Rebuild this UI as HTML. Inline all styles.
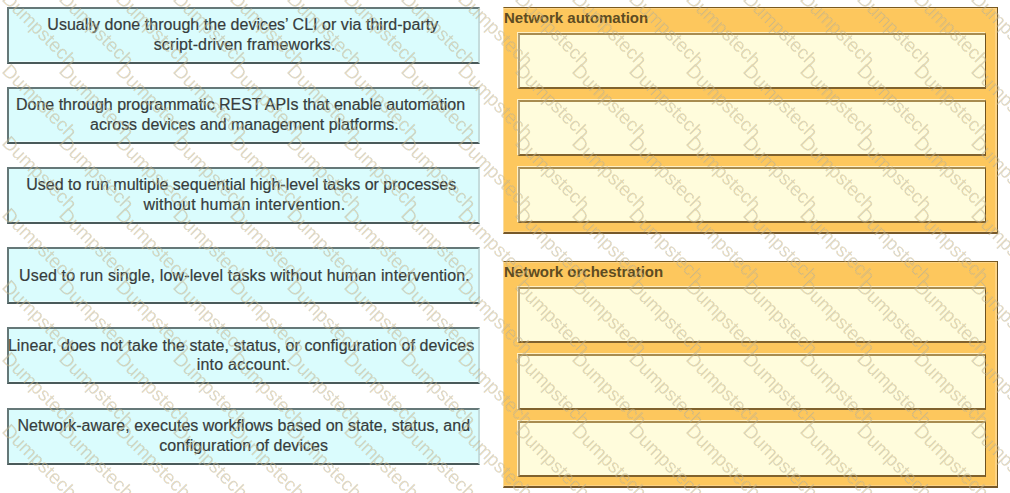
<!DOCTYPE html><html><head><meta charset="utf-8"><style>
*{margin:0;padding:0;box-sizing:border-box}
html,body{width:1010px;height:493px;overflow:hidden;background:#fff}
body{position:relative;font-family:"Liberation Sans",sans-serif;color:#363c3c}
.lb{position:absolute;left:7px;width:473px;height:57px;background:#dafcfd;
 border-top:2px solid #657878;border-left:2px solid #657878;border-bottom:2px solid #4a5a5a;border-right:2px solid #c4dcdc;
 box-shadow:inset 0 -1px 0 #ecfefe}
.t{position:absolute;white-space:nowrap;font-size:16px;line-height:16px;-webkit-text-stroke:0.2px #363c3c}
.og{position:absolute;left:503px;width:495px;background:#fdc75d;
 border-top:1px solid #7a5a20;border-right:1px solid #6a5020;border-bottom:2px solid #76582a;border-left:1px solid #f8dca0;
 box-shadow:inset 0 1px 0 #fdd486, inset -2px 0 0 #fdd486, inset 0 -1px 0 #fdd486}
.ib{position:absolute;left:14px;width:468px;background:#fffcdc;
 border-top:2px solid #a88c50;border-left:2px solid #b4a47c;border-bottom:2px solid #80622e;border-right:1px solid #6e5220;
 box-shadow:-1px -1px 0 #fff0c4}
.ttl{position:absolute;left:0px;white-space:nowrap;font-weight:bold;font-size:15px;line-height:15px;letter-spacing:0px;color:#5e4c22}
svg{position:absolute;left:0;top:0}
</style></head><body><div class="lb" style="top:7px"></div>
<div class="lb" style="top:87px"></div>
<div class="lb" style="top:167px"></div>
<div class="lb" style="top:247px"></div>
<div class="lb" style="top:327px"></div>
<div class="lb" style="top:408px"></div>
<div class="t" style="left:47.30px;top:17.3px;letter-spacing:0.038px">Usually done through the devices’ CLI or via third-party</div>
<div class="t" style="left:153.70px;top:36.7px;letter-spacing:0.125px">script-driven frameworks.</div>
<div class="t" style="left:16.10px;top:97.3px;letter-spacing:-0.028px">Done through programmatic REST APIs that enable automation</div>
<div class="t" style="left:90.10px;top:116.7px;letter-spacing:-0.023px">across devices and management platforms.</div>
<div class="t" style="left:26.30px;top:177.3px;letter-spacing:-0.010px">Used to run multiple sequential high-level tasks or processes</div>
<div class="t" style="left:143.50px;top:197.0px;letter-spacing:0.231px">without human intervention.</div>
<div class="t" style="left:19.10px;top:267.8px;letter-spacing:0.140px">Used to run single, low-level tasks without human intervention.</div>
<div class="t" style="left:7.90px;top:337.8px;letter-spacing:0.070px">Linear, does not take the state, status, or configuration of devices</div>
<div class="t" style="left:196.70px;top:357.2px;letter-spacing:0.233px">into account.</div>
<div class="t" style="left:17.50px;top:417.8px;letter-spacing:0.013px">Network-aware, executes workflows based on state, status, and</div>
<div class="t" style="left:159.30px;top:437.5px;letter-spacing:0.022px">configuration of devices</div>
<div class="og" style="top:7px;height:227px"><div class="ttl" style="top:2px">Network automation</div><div class="ib" style="top:25px;height:56px"></div><div class="ib" style="top:92px;height:56px"></div><div class="ib" style="top:159px;height:56px"></div></div>
<div class="og" style="top:261px;height:227px"><div class="ttl" style="top:2px">Network orchestration</div><div class="ib" style="top:25px;height:56px"></div><div class="ib" style="top:92px;height:56px"></div><div class="ib" style="top:159px;height:56px"></div></div>
<svg width="1010" height="493" viewBox="0 0 1010 493"><defs><pattern id="cb" width="2" height="2" patternUnits="userSpaceOnUse"><rect width="2" height="2" fill="#9aaab4"/><rect width="1" height="1" fill="#e8bc68"/><rect x="1" y="1" width="1" height="1" fill="#e8bc68"/></pattern><mask id="wmm" maskUnits="userSpaceOnUse" x="0" y="0" width="1010" height="493"><g fill="#fff" font-family="Liberation Sans" font-size="19"><text transform="translate(1.00 -144.00) rotate(45)">Dumpstech</text><text transform="translate(58.00 -144.00) rotate(45)">Dumpstech</text><text transform="translate(115.00 -144.00) rotate(45)">Dumpstech</text><text transform="translate(172.00 -144.00) rotate(45)">Dumpstech</text><text transform="translate(229.00 -144.00) rotate(45)">Dumpstech</text><text transform="translate(286.00 -144.00) rotate(45)">Dumpstech</text><text transform="translate(343.00 -144.00) rotate(45)">Dumpstech</text><text transform="translate(400.00 -144.00) rotate(45)">Dumpstech</text><text transform="translate(457.00 -144.00) rotate(45)">Dumpstech</text><text transform="translate(514.00 -144.00) rotate(45)">Dumpstech</text><text transform="translate(571.00 -144.00) rotate(45)">Dumpstech</text><text transform="translate(628.00 -144.00) rotate(45)">Dumpstech</text><text transform="translate(685.00 -144.00) rotate(45)">Dumpstech</text><text transform="translate(742.00 -144.00) rotate(45)">Dumpstech</text><text transform="translate(799.00 -144.00) rotate(45)">Dumpstech</text><text transform="translate(856.00 -144.00) rotate(45)">Dumpstech</text><text transform="translate(913.00 -144.00) rotate(45)">Dumpstech</text><text transform="translate(970.00 -144.00) rotate(45)">Dumpstech</text><text transform="translate(1027.00 -144.00) rotate(45)">Dumpstech</text><text transform="translate(1.00 -72.00) rotate(45)">Dumpstech</text><text transform="translate(58.00 -72.00) rotate(45)">Dumpstech</text><text transform="translate(115.00 -72.00) rotate(45)">Dumpstech</text><text transform="translate(172.00 -72.00) rotate(45)">Dumpstech</text><text transform="translate(229.00 -72.00) rotate(45)">Dumpstech</text><text transform="translate(286.00 -72.00) rotate(45)">Dumpstech</text><text transform="translate(343.00 -72.00) rotate(45)">Dumpstech</text><text transform="translate(400.00 -72.00) rotate(45)">Dumpstech</text><text transform="translate(457.00 -72.00) rotate(45)">Dumpstech</text><text transform="translate(514.00 -72.00) rotate(45)">Dumpstech</text><text transform="translate(571.00 -72.00) rotate(45)">Dumpstech</text><text transform="translate(628.00 -72.00) rotate(45)">Dumpstech</text><text transform="translate(685.00 -72.00) rotate(45)">Dumpstech</text><text transform="translate(742.00 -72.00) rotate(45)">Dumpstech</text><text transform="translate(799.00 -72.00) rotate(45)">Dumpstech</text><text transform="translate(856.00 -72.00) rotate(45)">Dumpstech</text><text transform="translate(913.00 -72.00) rotate(45)">Dumpstech</text><text transform="translate(970.00 -72.00) rotate(45)">Dumpstech</text><text transform="translate(1027.00 -72.00) rotate(45)">Dumpstech</text><text transform="translate(1.00 0.00) rotate(45)">Dumpstech</text><text transform="translate(58.00 0.00) rotate(45)">Dumpstech</text><text transform="translate(115.00 0.00) rotate(45)">Dumpstech</text><text transform="translate(172.00 0.00) rotate(45)">Dumpstech</text><text transform="translate(229.00 0.00) rotate(45)">Dumpstech</text><text transform="translate(286.00 0.00) rotate(45)">Dumpstech</text><text transform="translate(343.00 0.00) rotate(45)">Dumpstech</text><text transform="translate(400.00 0.00) rotate(45)">Dumpstech</text><text transform="translate(457.00 0.00) rotate(45)">Dumpstech</text><text transform="translate(514.00 0.00) rotate(45)">Dumpstech</text><text transform="translate(571.00 0.00) rotate(45)">Dumpstech</text><text transform="translate(628.00 0.00) rotate(45)">Dumpstech</text><text transform="translate(685.00 0.00) rotate(45)">Dumpstech</text><text transform="translate(742.00 0.00) rotate(45)">Dumpstech</text><text transform="translate(799.00 0.00) rotate(45)">Dumpstech</text><text transform="translate(856.00 0.00) rotate(45)">Dumpstech</text><text transform="translate(913.00 0.00) rotate(45)">Dumpstech</text><text transform="translate(970.00 0.00) rotate(45)">Dumpstech</text><text transform="translate(1027.00 0.00) rotate(45)">Dumpstech</text><text transform="translate(1.00 72.00) rotate(45)">Dumpstech</text><text transform="translate(58.00 72.00) rotate(45)">Dumpstech</text><text transform="translate(115.00 72.00) rotate(45)">Dumpstech</text><text transform="translate(172.00 72.00) rotate(45)">Dumpstech</text><text transform="translate(229.00 72.00) rotate(45)">Dumpstech</text><text transform="translate(286.00 72.00) rotate(45)">Dumpstech</text><text transform="translate(343.00 72.00) rotate(45)">Dumpstech</text><text transform="translate(400.00 72.00) rotate(45)">Dumpstech</text><text transform="translate(457.00 72.00) rotate(45)">Dumpstech</text><text transform="translate(514.00 72.00) rotate(45)">Dumpstech</text><text transform="translate(571.00 72.00) rotate(45)">Dumpstech</text><text transform="translate(628.00 72.00) rotate(45)">Dumpstech</text><text transform="translate(685.00 72.00) rotate(45)">Dumpstech</text><text transform="translate(742.00 72.00) rotate(45)">Dumpstech</text><text transform="translate(799.00 72.00) rotate(45)">Dumpstech</text><text transform="translate(856.00 72.00) rotate(45)">Dumpstech</text><text transform="translate(913.00 72.00) rotate(45)">Dumpstech</text><text transform="translate(970.00 72.00) rotate(45)">Dumpstech</text><text transform="translate(1027.00 72.00) rotate(45)">Dumpstech</text><text transform="translate(1.00 144.00) rotate(45)">Dumpstech</text><text transform="translate(58.00 144.00) rotate(45)">Dumpstech</text><text transform="translate(115.00 144.00) rotate(45)">Dumpstech</text><text transform="translate(172.00 144.00) rotate(45)">Dumpstech</text><text transform="translate(229.00 144.00) rotate(45)">Dumpstech</text><text transform="translate(286.00 144.00) rotate(45)">Dumpstech</text><text transform="translate(343.00 144.00) rotate(45)">Dumpstech</text><text transform="translate(400.00 144.00) rotate(45)">Dumpstech</text><text transform="translate(457.00 144.00) rotate(45)">Dumpstech</text><text transform="translate(514.00 144.00) rotate(45)">Dumpstech</text><text transform="translate(571.00 144.00) rotate(45)">Dumpstech</text><text transform="translate(628.00 144.00) rotate(45)">Dumpstech</text><text transform="translate(685.00 144.00) rotate(45)">Dumpstech</text><text transform="translate(742.00 144.00) rotate(45)">Dumpstech</text><text transform="translate(799.00 144.00) rotate(45)">Dumpstech</text><text transform="translate(856.00 144.00) rotate(45)">Dumpstech</text><text transform="translate(913.00 144.00) rotate(45)">Dumpstech</text><text transform="translate(970.00 144.00) rotate(45)">Dumpstech</text><text transform="translate(1027.00 144.00) rotate(45)">Dumpstech</text><text transform="translate(1.00 216.00) rotate(45)">Dumpstech</text><text transform="translate(58.00 216.00) rotate(45)">Dumpstech</text><text transform="translate(115.00 216.00) rotate(45)">Dumpstech</text><text transform="translate(172.00 216.00) rotate(45)">Dumpstech</text><text transform="translate(229.00 216.00) rotate(45)">Dumpstech</text><text transform="translate(286.00 216.00) rotate(45)">Dumpstech</text><text transform="translate(343.00 216.00) rotate(45)">Dumpstech</text><text transform="translate(400.00 216.00) rotate(45)">Dumpstech</text><text transform="translate(457.00 216.00) rotate(45)">Dumpstech</text><text transform="translate(514.00 216.00) rotate(45)">Dumpstech</text><text transform="translate(571.00 216.00) rotate(45)">Dumpstech</text><text transform="translate(628.00 216.00) rotate(45)">Dumpstech</text><text transform="translate(685.00 216.00) rotate(45)">Dumpstech</text><text transform="translate(742.00 216.00) rotate(45)">Dumpstech</text><text transform="translate(799.00 216.00) rotate(45)">Dumpstech</text><text transform="translate(856.00 216.00) rotate(45)">Dumpstech</text><text transform="translate(913.00 216.00) rotate(45)">Dumpstech</text><text transform="translate(970.00 216.00) rotate(45)">Dumpstech</text><text transform="translate(1027.00 216.00) rotate(45)">Dumpstech</text><text transform="translate(1.00 288.00) rotate(45)">Dumpstech</text><text transform="translate(58.00 288.00) rotate(45)">Dumpstech</text><text transform="translate(115.00 288.00) rotate(45)">Dumpstech</text><text transform="translate(172.00 288.00) rotate(45)">Dumpstech</text><text transform="translate(229.00 288.00) rotate(45)">Dumpstech</text><text transform="translate(286.00 288.00) rotate(45)">Dumpstech</text><text transform="translate(343.00 288.00) rotate(45)">Dumpstech</text><text transform="translate(400.00 288.00) rotate(45)">Dumpstech</text><text transform="translate(457.00 288.00) rotate(45)">Dumpstech</text><text transform="translate(514.00 288.00) rotate(45)">Dumpstech</text><text transform="translate(571.00 288.00) rotate(45)">Dumpstech</text><text transform="translate(628.00 288.00) rotate(45)">Dumpstech</text><text transform="translate(685.00 288.00) rotate(45)">Dumpstech</text><text transform="translate(742.00 288.00) rotate(45)">Dumpstech</text><text transform="translate(799.00 288.00) rotate(45)">Dumpstech</text><text transform="translate(856.00 288.00) rotate(45)">Dumpstech</text><text transform="translate(913.00 288.00) rotate(45)">Dumpstech</text><text transform="translate(970.00 288.00) rotate(45)">Dumpstech</text><text transform="translate(1027.00 288.00) rotate(45)">Dumpstech</text><text transform="translate(1.00 360.00) rotate(45)">Dumpstech</text><text transform="translate(58.00 360.00) rotate(45)">Dumpstech</text><text transform="translate(115.00 360.00) rotate(45)">Dumpstech</text><text transform="translate(172.00 360.00) rotate(45)">Dumpstech</text><text transform="translate(229.00 360.00) rotate(45)">Dumpstech</text><text transform="translate(286.00 360.00) rotate(45)">Dumpstech</text><text transform="translate(343.00 360.00) rotate(45)">Dumpstech</text><text transform="translate(400.00 360.00) rotate(45)">Dumpstech</text><text transform="translate(457.00 360.00) rotate(45)">Dumpstech</text><text transform="translate(514.00 360.00) rotate(45)">Dumpstech</text><text transform="translate(571.00 360.00) rotate(45)">Dumpstech</text><text transform="translate(628.00 360.00) rotate(45)">Dumpstech</text><text transform="translate(685.00 360.00) rotate(45)">Dumpstech</text><text transform="translate(742.00 360.00) rotate(45)">Dumpstech</text><text transform="translate(799.00 360.00) rotate(45)">Dumpstech</text><text transform="translate(856.00 360.00) rotate(45)">Dumpstech</text><text transform="translate(913.00 360.00) rotate(45)">Dumpstech</text><text transform="translate(970.00 360.00) rotate(45)">Dumpstech</text><text transform="translate(1027.00 360.00) rotate(45)">Dumpstech</text><text transform="translate(1.00 432.00) rotate(45)">Dumpstech</text><text transform="translate(58.00 432.00) rotate(45)">Dumpstech</text><text transform="translate(115.00 432.00) rotate(45)">Dumpstech</text><text transform="translate(172.00 432.00) rotate(45)">Dumpstech</text><text transform="translate(229.00 432.00) rotate(45)">Dumpstech</text><text transform="translate(286.00 432.00) rotate(45)">Dumpstech</text><text transform="translate(343.00 432.00) rotate(45)">Dumpstech</text><text transform="translate(400.00 432.00) rotate(45)">Dumpstech</text><text transform="translate(457.00 432.00) rotate(45)">Dumpstech</text><text transform="translate(514.00 432.00) rotate(45)">Dumpstech</text><text transform="translate(571.00 432.00) rotate(45)">Dumpstech</text><text transform="translate(628.00 432.00) rotate(45)">Dumpstech</text><text transform="translate(685.00 432.00) rotate(45)">Dumpstech</text><text transform="translate(742.00 432.00) rotate(45)">Dumpstech</text><text transform="translate(799.00 432.00) rotate(45)">Dumpstech</text><text transform="translate(856.00 432.00) rotate(45)">Dumpstech</text><text transform="translate(913.00 432.00) rotate(45)">Dumpstech</text><text transform="translate(970.00 432.00) rotate(45)">Dumpstech</text><text transform="translate(1027.00 432.00) rotate(45)">Dumpstech</text><text transform="translate(1.00 504.00) rotate(45)">Dumpstech</text><text transform="translate(58.00 504.00) rotate(45)">Dumpstech</text><text transform="translate(115.00 504.00) rotate(45)">Dumpstech</text><text transform="translate(172.00 504.00) rotate(45)">Dumpstech</text><text transform="translate(229.00 504.00) rotate(45)">Dumpstech</text><text transform="translate(286.00 504.00) rotate(45)">Dumpstech</text><text transform="translate(343.00 504.00) rotate(45)">Dumpstech</text><text transform="translate(400.00 504.00) rotate(45)">Dumpstech</text><text transform="translate(457.00 504.00) rotate(45)">Dumpstech</text><text transform="translate(514.00 504.00) rotate(45)">Dumpstech</text><text transform="translate(571.00 504.00) rotate(45)">Dumpstech</text><text transform="translate(628.00 504.00) rotate(45)">Dumpstech</text><text transform="translate(685.00 504.00) rotate(45)">Dumpstech</text><text transform="translate(742.00 504.00) rotate(45)">Dumpstech</text><text transform="translate(799.00 504.00) rotate(45)">Dumpstech</text><text transform="translate(856.00 504.00) rotate(45)">Dumpstech</text><text transform="translate(913.00 504.00) rotate(45)">Dumpstech</text><text transform="translate(970.00 504.00) rotate(45)">Dumpstech</text><text transform="translate(1027.00 504.00) rotate(45)">Dumpstech</text></g></mask></defs><rect width="1010" height="493" fill="url(#cb)" mask="url(#wmm)" opacity="0.5"/></svg></body></html>
